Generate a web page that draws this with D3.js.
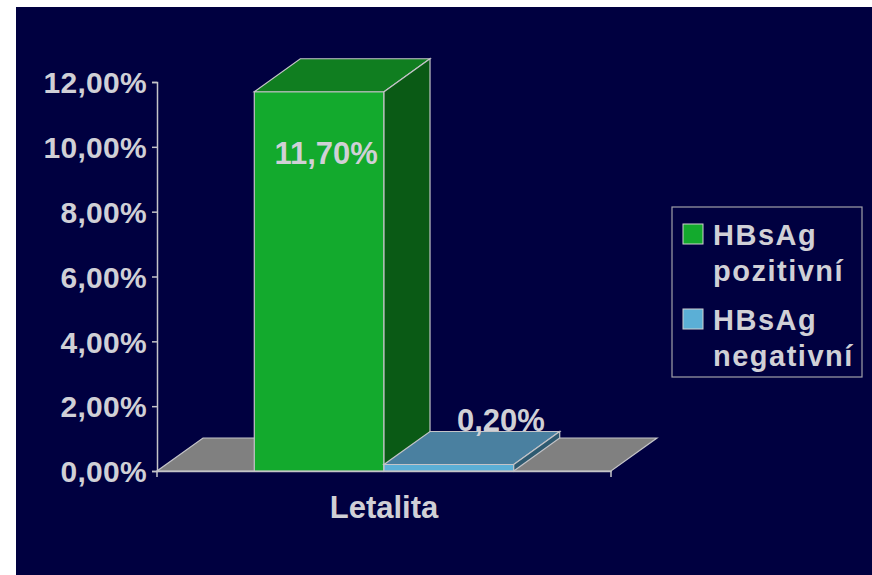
<!DOCTYPE html>
<html>
<head>
<meta charset="utf-8">
<script src="https://cdn.jsdelivr.net/npm/d3@7"></script>
<style>
  body { margin: 0; background: #ffffff; }
  svg { display: block; }
  text { font-family: "Liberation Sans", Arial, sans-serif; font-weight: bold; fill: #d0d0d6; }
</style>
</head>
<body>
<svg id="chart" width="872" height="575"></svg>
<script>
// data
var categories = ["Letalita"];
var series = ["HBsAg pozitivní", "HBsAg negativní"];
var values = [11.7, 0.2];
var valueLabels = ["11,70%", "0,20%"];
var tickValues = [0, 2, 4, 6, 8, 10, 12];

var colors = [
    {front: "#13aa2d", top: "#107e20", side: "#0a5a15"},
    {front: "#5bafd6", top: "#4a80a0", side: "#2e5a70"}
];

var svg = d3.select("#chart");
var depthX = 46, depthY = -33;
var edge = "#c4c4c8";

svg.append("rect")
    .attr("x", 16).attr("y", 7)
    .attr("width", 856).attr("height", 568)
    .attr("fill", "#000040");

var y = d3.scaleLinear().domain([0, 12]).range([471, 82]);
var x = d3.scaleBand().domain(categories).range([157, 611]);
var xs = d3.scaleBand().domain(series)
    .range([x(categories[0]), x(categories[0]) + x.bandwidth()])
    .paddingInner(0).paddingOuter(0.75);

function pts(arr) {
    return arr.map(function(p) { return p.join(","); }).join(" ");
}

// floor
var x0 = x.range()[0], x1 = x.range()[1], y0 = y(0);
svg.append("polygon")
    .attr("points", pts([[x0, y0], [x1, y0], [x1 + depthX, y0 + depthY], [x0 + depthX, y0 + depthY]]))
    .attr("fill", "#808080")
    .attr("stroke", edge).attr("stroke-width", 1.2);

// bars
var g = svg.append("g");
series.forEach(function(s, i) {
    var bx0 = xs(s), bx1 = xs(s) + xs.bandwidth();
    var by = y(values[i]);
    g.append("polygon")
        .attr("points", pts([[bx0, y0], [bx1, y0], [bx1, by], [bx0, by]]))
        .attr("fill", colors[i].front)
        .attr("stroke", edge).attr("stroke-width", 1.2);
    g.append("polygon")
        .attr("points", pts([[bx0, by], [bx1, by], [bx1 + depthX, by + depthY], [bx0 + depthX, by + depthY]]))
        .attr("fill", colors[i].top)
        .attr("stroke", edge).attr("stroke-width", 1.2);
    g.append("polygon")
        .attr("points", pts([[bx1, y0], [bx1 + depthX, y0 + depthY], [bx1 + depthX, by + depthY], [bx1, by]]))
        .attr("fill", colors[i].side)
        .attr("stroke", edge).attr("stroke-width", 1.2);
});

// value labels
svg.append("text")
    .attr("x", xs(series[0]) + xs.bandwidth() / 2 + 7)
    .attr("y", y(values[0]) + 72)
    .attr("text-anchor", "middle")
    .attr("font-size", 31)
    .text(valueLabels[0]);
svg.append("text")
    .attr("x", xs(series[1]) + xs.bandwidth() / 2 + 52)
    .attr("y", y(values[1]) - 34)
    .attr("text-anchor", "middle")
    .attr("font-size", 31)
    .text(valueLabels[1]);

// y axis
var yAxis = svg.append("g")
    .attr("transform", "translate(157,0)")
    .call(d3.axisLeft(y).tickValues(tickValues).tickSize(5).tickPadding(5)
        .tickFormat(function(d) { return d.toFixed(2).replace(".", ",") + "%"; }));
yAxis.select(".domain").attr("stroke", edge).attr("stroke-width", 1.5);
yAxis.selectAll(".tick line").attr("stroke", edge).attr("stroke-width", 1.5);
yAxis.selectAll(".tick text")
    .attr("font-size", 30)
    .attr("letter-spacing", 0.3)
    .attr("font-family", null)
    .attr("fill", null)
    .attr("dy", "0.36em");

// x axis (front edge of floor)
var xAxis = svg.append("g")
    .attr("transform", "translate(0," + y0 + ")")
    .call(d3.axisBottom(x).tickSize(0).tickPadding(25));
xAxis.select(".domain").attr("stroke", edge).attr("stroke-width", 1.5);
xAxis.selectAll(".tick text")
    .attr("font-size", 31)
    .attr("font-family", null)
    .attr("fill", null)
    .attr("dy", "0.71em");
[x0, x1].forEach(function(xx) {
    svg.append("line")
        .attr("x1", xx).attr("x2", xx)
        .attr("y1", y0).attr("y2", y0 + 6)
        .attr("stroke", edge).attr("stroke-width", 1.5);
});

// legend
var legend = svg.append("g");
legend.append("rect")
    .attr("x", 672).attr("y", 207)
    .attr("width", 190).attr("height", 170)
    .attr("fill", "none")
    .attr("stroke", "#a0a0a8").attr("stroke-width", 1.2);
series.forEach(function(s, i) {
    var top = 224 + i * 85;
    legend.append("rect")
        .attr("x", 683).attr("y", top)
        .attr("width", 20).attr("height", 20)
        .attr("fill", colors[i].front)
        .attr("stroke", "#d0d0d0").attr("stroke-width", 1);
    var words = s.split(" ");
    words.forEach(function(w, j) {
        legend.append("text")
            .attr("x", 713)
            .attr("y", top + 21 + j * 36)
            .attr("font-size", 29)
            .attr("letter-spacing", 1.5)
            .text(w);
    });
});
</script>
</body>
</html>
